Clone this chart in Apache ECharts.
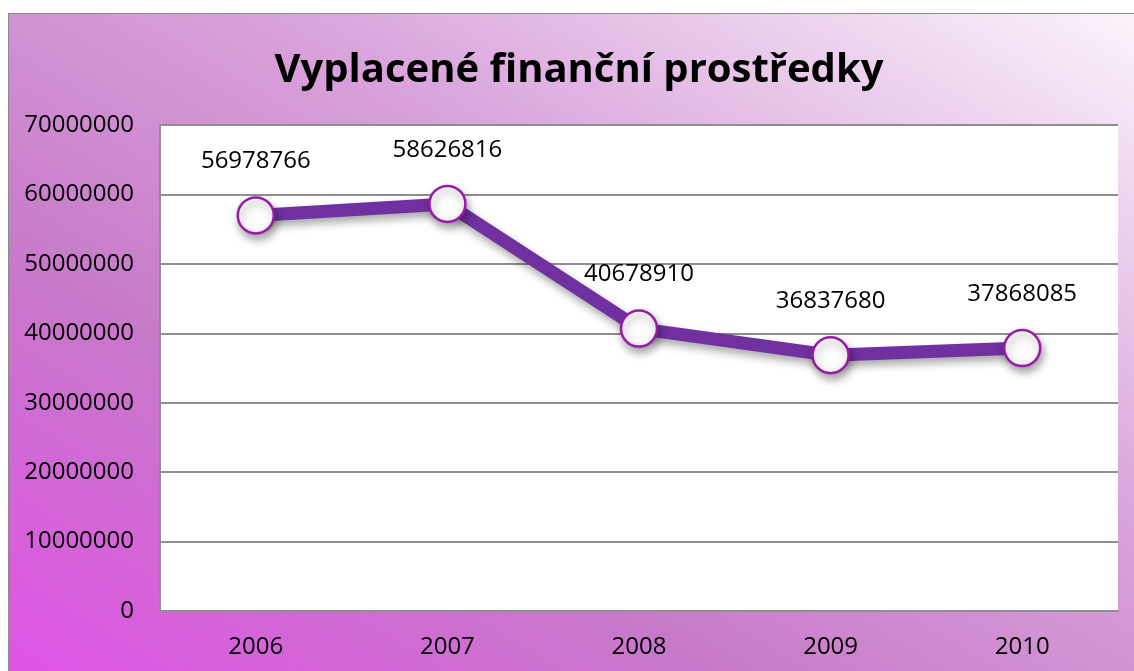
<!DOCTYPE html>
<html>
<head>
<meta charset="utf-8">
<script src="https://cdn.jsdelivr.net/npm/echarts@6/dist/echarts.min.js"></script>
<style>
html,body{margin:0;padding:0;background:#ffffff;width:1134px;height:671px;overflow:hidden;}
#wrap{position:absolute;left:8px;top:13px;width:1140px;height:680px;border:1px solid #8c8c8c;
background:linear-gradient(to top right,#e052e6 0%,#c77ac9 33%,#d9a3db 62%,#fbf4fb 100%);}
#chart{position:absolute;left:0;top:0;width:1140px;height:680px;}
</style>
</head>
<body>
<div id="wrap"><div id="chart"></div></div>
<script>
const titleText = 'Vyplacené finanční prostředky';
const categories = ['2006', '2007', '2008', '2009', '2010'];
const values = [56978766, 58626816, 40678910, 36837680, 37868085];
const yTicks = { min: 0, max: 70000000, interval: 10000000 };

const chart = echarts.init(document.getElementById('chart'), null, { renderer: 'canvas' });
const fontFam = '"Open Sans", "Noto Sans", sans-serif';
chart.setOption({
  backgroundColor: 'transparent',
  animation: false,
  title: {
    text: titleText,
    left: 'center',
    top: 32,
    textStyle: { fontFamily: fontFam, fontWeight: 'bold', fontSize: 40, color: '#000' }
  },
  grid: { left: 151, top: 111, width: 958, height: 486, containLabel: false },
  xAxis: {
    type: 'category',
    data: categories,
    boundaryGap: true,
    axisLine: { show: true, lineStyle: { color: '#8e8e8e', width: 2 } },
    axisTick: { show: false },
    axisLabel: { fontFamily: fontFam, fontSize: 24, color: '#000', margin: 24 }
  },
  yAxis: {
    type: 'value',
    min: yTicks.min, max: yTicks.max, interval: yTicks.interval,
    axisLine: { show: true, lineStyle: { color: '#8e8e8e', width: 2 } },
    axisTick: { show: false },
    splitLine: { show: true, lineStyle: { color: '#8e8e8e', width: 2 } },
    splitArea: { show: true, areaStyle: { color: ['#ffffff', '#ffffff'] } },
    axisLabel: { fontFamily: fontFam, fontSize: 24, color: '#000', margin: 26, formatter: v => String(v) }
  },
  series: [{
    type: 'line',
    data: values,
    lineStyle: { color: '#7030a0', width: 13, shadowColor: 'rgba(0,0,0,0.35)', shadowBlur: 8, shadowOffsetX: 2, shadowOffsetY: 5 },
    symbol: 'circle',
    symbolSize: 36,
    itemStyle: {
      color: {
        type: 'radial', x: 0.45, y: 0.35, r: 0.7,
        colorStops: [{ offset: 0, color: '#ffffff' }, { offset: 0.7, color: '#fbfbfb' }, { offset: 1, color: '#e4e4e4' }]
      },
      borderColor: '#9a1aa8', borderWidth: 2.5,
      shadowColor: 'rgba(0,0,0,0.35)', shadowBlur: 8, shadowOffsetX: 2, shadowOffsetY: 5
    },
    label: {
      show: true, position: 'top', distance: 23,
      fontFamily: fontFam, fontSize: 24, color: '#000'
    }
  }]
});
</script>
</body>
</html>
